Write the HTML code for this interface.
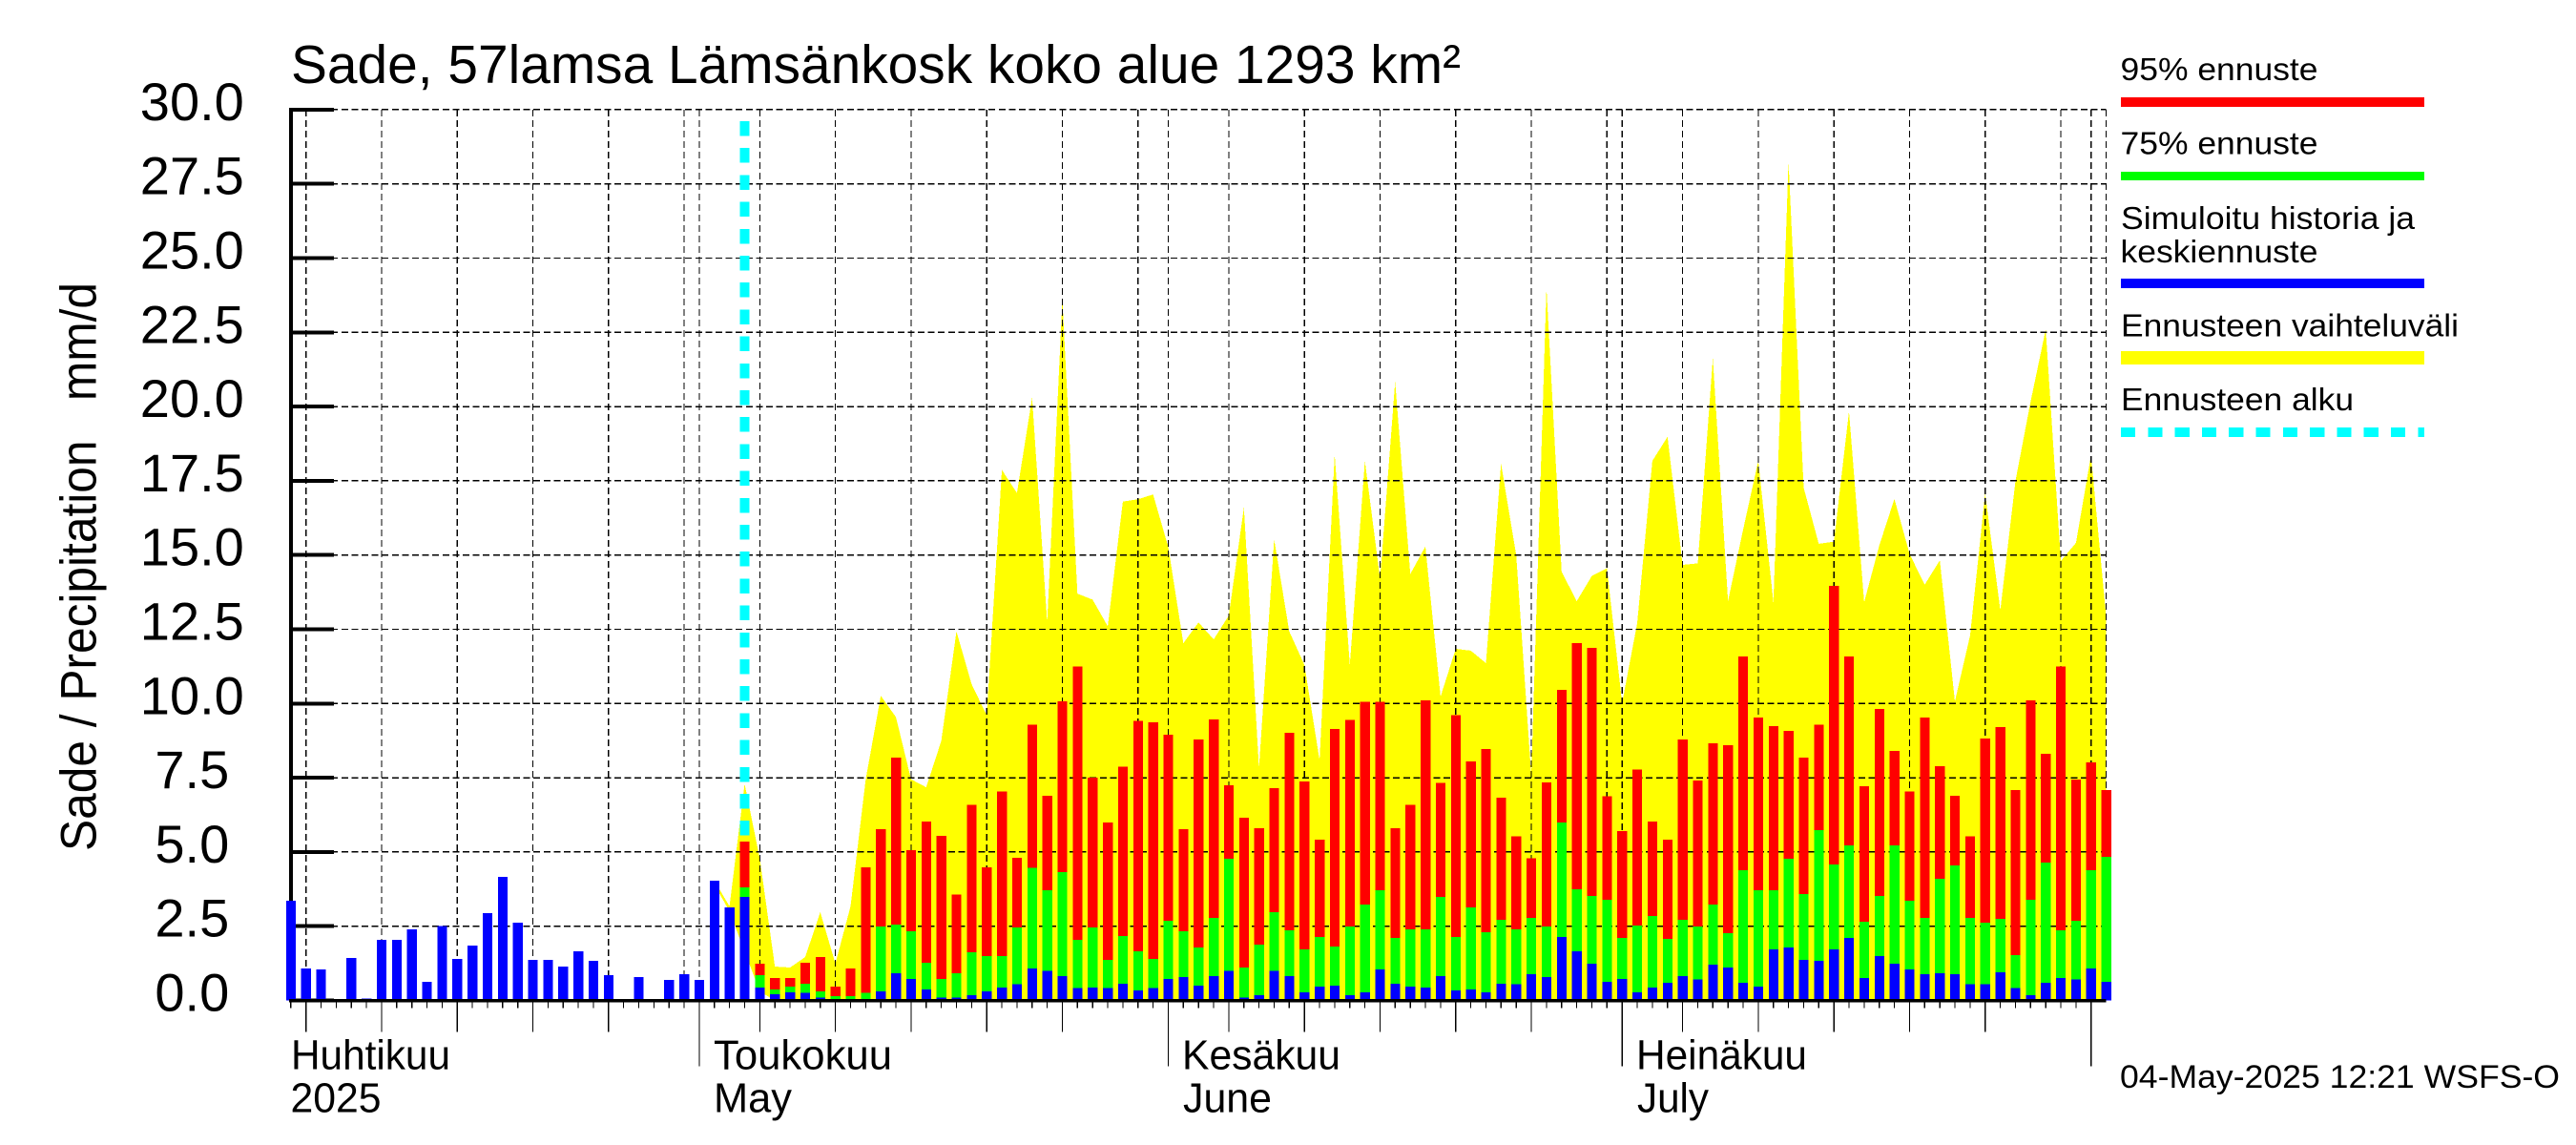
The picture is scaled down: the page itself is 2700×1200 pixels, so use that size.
<!DOCTYPE html>
<html lang="fi">
<head>
<meta charset="utf-8">
<title>Sade, 57lamsa Lämsänkosk koko alue 1293 km²</title>
<style>
html,body{margin:0;padding:0;background:#fff;}
svg{display:block;}
text{font-family:"Liberation Sans",sans-serif;fill:#000;white-space:pre;}
</style>
</head>
<body>
<svg id="chart" xmlns="http://www.w3.org/2000/svg" width="2700" height="1200" viewBox="0 0 2700 1200">
  <rect x="0" y="0" width="2700" height="1200" fill="#fff"/>
  <g id="plot"></g>

  <text x="305" y="87" font-size="57" textLength="1226" lengthAdjust="spacingAndGlyphs">Sade, 57lamsa Lämsänkosk koko alue 1293 km²</text>
  <text transform="translate(100.5,892) rotate(-90)" font-size="53" textLength="596" lengthAdjust="spacingAndGlyphs">Sade / Precipitation   mm/d</text>

  <text x="305" y="1120.7" font-size="43.5" textLength="167" lengthAdjust="spacingAndGlyphs">Huhtikuu</text>
  <text x="304.5" y="1165.5" font-size="43.5" textLength="95" lengthAdjust="spacingAndGlyphs">2025</text>
  <text x="748" y="1120.7" font-size="43.5" textLength="187" lengthAdjust="spacingAndGlyphs">Toukokuu</text>
  <text x="748" y="1165.5" font-size="43.5" textLength="82" lengthAdjust="spacingAndGlyphs">May</text>
  <text x="1239" y="1120.7" font-size="43.5" textLength="166" lengthAdjust="spacingAndGlyphs">Kesäkuu</text>
  <text x="1240" y="1165.5" font-size="43.5" textLength="93" lengthAdjust="spacingAndGlyphs">June</text>
  <text x="1715" y="1120.7" font-size="43.5" textLength="179" lengthAdjust="spacingAndGlyphs">Heinäkuu</text>
  <text x="1716" y="1165.5" font-size="43.5" textLength="75" lengthAdjust="spacingAndGlyphs">July</text>

  <text x="2222" y="1140" font-size="34" textLength="461" lengthAdjust="spacingAndGlyphs">04-May-2025 12:21 WSFS-O</text>

  <g>
    <text x="2222.5" y="84" font-size="33.5" textLength="207" lengthAdjust="spacingAndGlyphs">95% ennuste</text>
    <rect x="2223" y="102" width="318" height="10" fill="#ff0000" shape-rendering="crispEdges"/>
    <text x="2222.5" y="161.7" font-size="33.5" textLength="207" lengthAdjust="spacingAndGlyphs">75% ennuste</text>
    <rect x="2223" y="180" width="318" height="9" fill="#00ff00" shape-rendering="crispEdges"/>
    <text x="2223" y="240" font-size="33.5" textLength="308" lengthAdjust="spacingAndGlyphs">Simuloitu historia ja</text>
    <text x="2222.5" y="275" font-size="33.5" textLength="207" lengthAdjust="spacingAndGlyphs">keskiennuste</text>
    <rect x="2223" y="292" width="318" height="10" fill="#0000ff" shape-rendering="crispEdges"/>
    <text x="2223" y="352.7" font-size="33.5" textLength="354" lengthAdjust="spacingAndGlyphs">Ennusteen vaihteluväli</text>
    <rect x="2223" y="368" width="318" height="14" fill="#ffff00" shape-rendering="crispEdges"/>
    <text x="2223" y="430" font-size="33.5" textLength="244" lengthAdjust="spacingAndGlyphs">Ennusteen alku</text>
    <line x1="2223" y1="453" x2="2541" y2="453" stroke="#00ffff" stroke-width="10" stroke-dasharray="15.2 13.1" shape-rendering="crispEdges"/>
  </g>
</svg>
<script>
// Category axis: day indexes along the x axis
const firstDay = 0;
const lastDay = 120;
const forecastStartDay = 30;
const rangeStartDay = 28;
const gridDays = [1,6,11,16,21,26,27,31,36,41,46,51,56,58,62,67,72,77,82,87,88,92,97,102,107,112,117,119,120];
const mediumTickDays = [1,6,11,16,21,31,36,41,46,51,62,67,72,77,82,92,97,102,107,112];
const longTickDays = [27,58,88,119];

// Y axis
const yTickValues = [0,2.5,5,7.5,10,12.5,15,17.5,20,22.5,25,27.5,30];
const yTickLabels = ["0.0","2.5","5.0","7.5","10.0","12.5","15.0","17.5","20.0","22.5","25.0","27.5","30.0"];

// Simulated history, days 0..29 (mm/d)
const historyValues = [3.36,1.07,1.05,0,1.43,0.07,2.04,2.04,2.40,0.63,2.5,1.40,1.85,2.94,4.16,2.62,1.37,1.37,1.14,1.66,1.33,0.85,0.05,0.79,0.04,0.69,0.89,0.69,4.03,3.13];

// Forecast mean (blue), days 30..120
const meanForecast = [3.49,.44,.21,.28,.25,.09,.04,.03,.02,.31,.92,.73,.37,.09,.09,.18,.31,.44,.54,1.08,.99,.82,.41,.44,.41,.57,.34,.41,.73,.79,.5,.82,.99,.09,.18,.99,.82,.28,.47,.5,.18,.28,1.05,.57,.47,.44,.82,.34,.37,.28,.57,.54,.89,.79,2.14,1.66,1.24,.63,.73,.28,.44,.6,.82,.7,1.21,1.11,.6,.47,1.72,1.78,1.37,1.34,1.72,2.11,.76,1.5,1.24,1.05,.89,.92,.89,.54,.54,.95,.41,.18,.6,.76,.7,1.08,.63];

// 75% forecast (green), days 30..120
const p75Forecast = [3.81,.85,.37,.47,.57,.31,.15,.15,.25,2.49,2.56,2.33,1.27,.73,.92,1.62,1.5,1.5,2.46,4.46,3.71,4.33,2.04,2.46,1.37,2.17,1.66,1.4,2.69,2.33,1.79,2.78,4.77,1.11,1.88,2.97,2.36,1.72,2.14,1.82,2.49,3.23,3.71,2.11,2.4,2.4,3.49,2.14,3.13,2.3,2.72,2.4,2.78,2.49,6.0,3.75,3.52,3.39,2.11,2.52,2.85,2.08,2.72,2.49,3.23,2.27,4.39,3.71,3.71,4.77,3.58,5.74,4.58,5.22,2.65,3.52,5.22,3.36,2.78,4.1,4.55,2.78,2.62,2.75,1.53,3.39,4.65,2.36,2.69,4.39,4.83];

// 95% forecast (red), days 30..120
const p95Forecast = [5.35,1.24,.76,.76,1.27,1.47,.47,1.08,4.49,5.77,8.18,5.06,6.03,5.55,3.56,6.58,4.49,7.03,4.81,9.28,6.9,10.08,11.24,7.51,6.0,7.87,9.41,9.37,8.95,5.77,8.79,9.47,7.25,6.16,5.8,7.15,9.01,7.38,5.42,9.14,9.44,10.05,10.05,5.8,6.58,10.11,7.32,9.6,8.05,8.47,6.83,5.52,4.78,7.35,10.46,12.04,11.88,6.87,5.7,7.77,6.03,5.42,8.79,7.41,8.66,8.6,11.59,9.53,9.24,9.08,8.18,9.28,13.97,11.59,7.22,9.82,8.41,7.03,9.53,7.89,6.9,5.52,8.82,9.21,7.09,10.11,8.31,11.24,7.44,8.02,7.08];

// Forecast range upper edge (yellow), days 28..120
const rangeHigh = [4.03,3.17,7.29,4.77,1.14,1.11,1.46,2.97,1.24,3.17,7.45,10.26,9.54,7.45,7.18,8.74,12.43,10.66,9.6,17.87,17.09,20.3,12.73,23.6,13.7,13.5,12.6,16.8,16.88,17.04,15.27,12.03,12.73,12.16,12.96,16.6,7.82,15.53,12.43,11.3,8.09,18.39,11.3,18.17,14.2,20.84,14.36,15.29,10.23,11.84,11.78,11.36,18.08,15.0,7.56,24.0,14.44,13.44,14.3,14.55,10.02,12.7,18.17,18.98,14.67,14.72,21.63,13.45,15.85,18.17,13.41,28.26,17.27,15.38,15.45,19.84,13.41,15.33,16.89,15.04,14.0,14.82,10.07,12.28,17.08,13.14,17.5,20.16,22.6,14.8,15.41,18.36,12.9];

// Forecast range lower edge where it lifts off zero, days 28..31
const rangeLowStart = [3.9,3.0,1.65,0.3];

const SVG_NS = "http://www.w3.org/2000/svg";
const plot = document.getElementById("plot");
const xAt = d => 304.8 + (d - firstDay) * (2207.6 - 304.8) / (lastDay - firstDay);
const yAt = v => 1048.5 - v * 31.12;
const plotTop = yAt(30);
const plotBottom = yAt(0);
const plotLeft = xAt(firstDay);
const plotRight = xAt(lastDay);

function make(tag, attrs, parent) {
  const el = document.createElementNS(SVG_NS, tag);
  for (const k in attrs) el.setAttribute(k, attrs[k]);
  (parent || plot).appendChild(el);
  return el;
}

// Range area
const rangePts = [];
rangeHigh.forEach((v, i) => rangePts.push(xAt(rangeStartDay + i).toFixed(1) + "," + yAt(v).toFixed(1)));
for (let i = rangeHigh.length - 1; i >= 0; i--) {
  const low = i < rangeLowStart.length ? rangeLowStart[i] : 0;
  rangePts.push(xAt(rangeStartDay + i).toFixed(1) + "," + yAt(low).toFixed(1));
}
const rangeArea = make("polygon", {points: rangePts.join(" "), fill: "#ffff00", "shape-rendering": "crispEdges"});



// Grid
const gridGroup = make("g", {stroke: "#000", "shape-rendering": "crispEdges"});


yTickValues.forEach(v => {
  const line = make("line", {x1: plotLeft, x2: plotRight, y1: yAt(v), y2: yAt(v), "stroke-width": 1.4, "stroke-dasharray": "7 3.6"}, gridGroup);
  
  
});
gridDays.forEach(d => {
  const line = make("line", {x1: xAt(d), x2: xAt(d), y1: plotTop, y2: plotBottom, "stroke-width": 1.2, "stroke-dasharray": "7 4"}, gridGroup);
  
  
});

// Forecast start marker
const startLine = make("line", {x1: xAt(forecastStartDay), x2: xAt(forecastStartDay), y1: 127, y2: 882, stroke: "#00ffff", "stroke-width": 10, "stroke-dasharray": "15.5 12.7", "shape-rendering": "crispEdges"});



// Left axis
const leftAxis = make("rect", {x: 302.8, y: plotTop - 2, width: 4.2, height: plotBottom - plotTop + 4, fill: "#000", "shape-rendering": "crispEdges"});



// Y ticks and labels
yTickValues.forEach((v, i) => {
  const tick = make("rect", {x: 303, y: yAt(v) - 2, width: 47, height: 4, fill: "#000", "shape-rendering": "crispEdges"});
  
  
  const label = make("text", {x: 201.3, y: yAt(v) + 11, "font-size": 56, "text-anchor": "middle"});
  
  
  label.textContent = yTickLabels[i];
});

// Bars
function drawBar(day, value, color, name) {
  if (value <= 0) return;
  const top = yAt(value);
  const bar = make("rect", {x: xAt(day) - 5, y: top, width: 10.2, height: plotBottom - top, fill: color, "shape-rendering": "crispEdges"});
  
  
}
historyValues.forEach((v, i) => drawBar(firstDay + i, v, "#0000ff", "history-bar"));
p95Forecast.forEach((v, i) => drawBar(forecastStartDay + i, v, "#ff0000", "forecast-95-bar"));
p75Forecast.forEach((v, i) => drawBar(forecastStartDay + i, v, "#00ff00", "forecast-75-bar"));
meanForecast.forEach((v, i) => drawBar(forecastStartDay + i, v, "#0000ff", "forecast-mean-bar"));

// Bottom axis
const bottomAxis = make("rect", {x: 303, y: 1047, width: plotRight - 303, height: 3.4, fill: "#000", "shape-rendering": "crispEdges"});



// X ticks
for (let d = firstDay; d < lastDay; d++) {
  let end = 1056.7;
  if (mediumTickDays.includes(d)) end = 1081.5;
  if (longTickDays.includes(d)) end = 1117.3;
  const tick = make("line", {x1: xAt(d), x2: xAt(d), y1: 1049, y2: end, stroke: "#000", "stroke-width": 1.2, "shape-rendering": "crispEdges"});
  
  
}
</script>
</body>
</html>
